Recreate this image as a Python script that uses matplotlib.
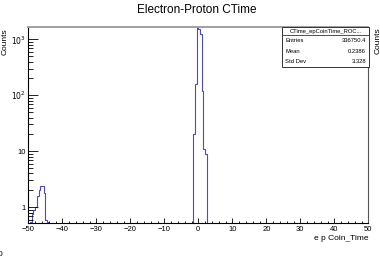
import matplotlib
matplotlib.use('Agg')
import matplotlib.pyplot as plt
from matplotlib.patches import Rectangle
from matplotlib.lines import Line2D
import numpy as np

plt.rcParams['font.family'] = ['Liberation Sans', 'DejaVu Sans']

# histogram: 200 bins from -50 to 50 (width 0.5), only non-empty bins listed
x_min, x_max, n_bins = -50.0, 50.0, 200
side_peak_start = -49.5
side_peak_counts = [0.55, 0.75, 0.9, 1.0, 1.6, 2.0, 2.4, 2.4, 1.8, 0.6, 0.55]
main_peak_start = -1.5
main_peak_counts = [20, 158, 1700, 1550, 1230, 117, 11, 9]

y_ticks = [1, 10, 100, 1000]
y_tick_labels = ['1', '10', r'$10^{2}$', r'$10^{3}$']
x_ticks = [-50, -40, -30, -20, -10, 0, 10, 20, 30, 40, 50]

stats_title = 'CTime_epCoinTime_ROC...'
stats_rows = [('Entries', '336750.4'), ('Mean', '0.2386'), ('Std Dev', '3.328')]

edges = np.linspace(x_min, x_max, n_bins + 1)
counts = np.zeros(n_bins)
i0 = int(round((side_peak_start - x_min) / 0.5))
counts[i0:i0 + len(side_peak_counts)] = side_peak_counts
i1 = int(round((main_peak_start - x_min) / 0.5))
counts[i1:i1 + len(main_peak_counts)] = main_peak_counts
plot_counts = np.where(counts > 0, counts, 1e-3)

W, H = 380, 277
fig = plt.figure(figsize=(W / 100, H / 100), dpi=100)
ax = fig.add_axes([28.3 / W, 1 - 223 / H, 340 / W, 196 / H])

ax.stairs(plot_counts, edges, color='#4a4ac8', linewidth=0.8, baseline=None)
ax.set_yscale('log')
ax.set_xlim(x_min, x_max)
ax.set_ylim(0.52, 1660)

ax.set_xticks(x_ticks)
ax.set_xticks(np.arange(-50, 51, 2), minor=True)
ax.set_yticks(y_ticks)
ax.set_yticklabels(y_tick_labels)
ax.yaxis.set_minor_locator(matplotlib.ticker.LogLocator(base=10, subs=np.arange(2, 10)))
ax.yaxis.set_minor_formatter(matplotlib.ticker.NullFormatter())
ax.tick_params(axis='x', which='major', direction='in', length=3.6, width=0.6, labelsize=5.5, pad=2.5)
ax.tick_params(axis='x', which='minor', direction='in', length=1.8, width=0.6)
ax.tick_params(axis='y', which='major', direction='in', length=7.2, width=0.6, labelsize=5.5, pad=2)
ax.tick_params(axis='y', which='minor', direction='in', length=3.6, width=0.6)

ax.spines['top'].set_color('#a0a0a0')
ax.spines['top'].set_linewidth(1.4)
ax.spines['right'].set_color('#555555')
for s in ['left', 'bottom']:
    ax.spines[s].set_linewidth(0.8)

fig.text(197 / W, 1 - 10 / H, 'Electron-Proton CTime', ha='center', va='center', fontsize=8.5)
fig.text(5.5 / W, 1 - 28 / H, 'Counts', rotation=90, ha='center', va='top', fontsize=6)
fig.text(378 / W, 1 - 27 / H, 'Counts', rotation=90, ha='center', va='top', fontsize=6)
fig.text(368 / W, 1 - 238 / H, 'e p Coin_Time', ha='right', va='center', fontsize=6)
fig.text(-2 / W, 1 - 255 / H, '0', ha='left', va='center', fontsize=6)

# stats box
bx0, bx1, by0, by1 = 282, 369, 27, 67
fig.patches.append(Rectangle((bx0 / W, 1 - by1 / H), (bx1 - bx0) / W, (by1 - by0) / H,
                             transform=fig.transFigure, facecolor='white',
                             edgecolor='#333333', linewidth=0.7, zorder=5))
fig.lines.append(Line2D([bx0 / W, bx1 / W], [1 - 35 / H, 1 - 35 / H],
                        transform=fig.transFigure, color='#333333', linewidth=0.6, zorder=6))
fig.text((bx0 + bx1) / 2 / W, 1 - 31 / H, stats_title, ha='center', va='center', fontsize=4.2, zorder=7)
for k, (name, val) in enumerate(stats_rows):
    yy = 1 - (41 + 10.2 * k) / H
    fig.text((bx0 + 3) / W, yy, name, ha='left', va='center', fontsize=4.2, zorder=7)
    fig.text((bx1 - 3) / W, yy, val, ha='right', va='center', fontsize=4.2, zorder=7)

fig.savefig('out.png', dpi=100)
